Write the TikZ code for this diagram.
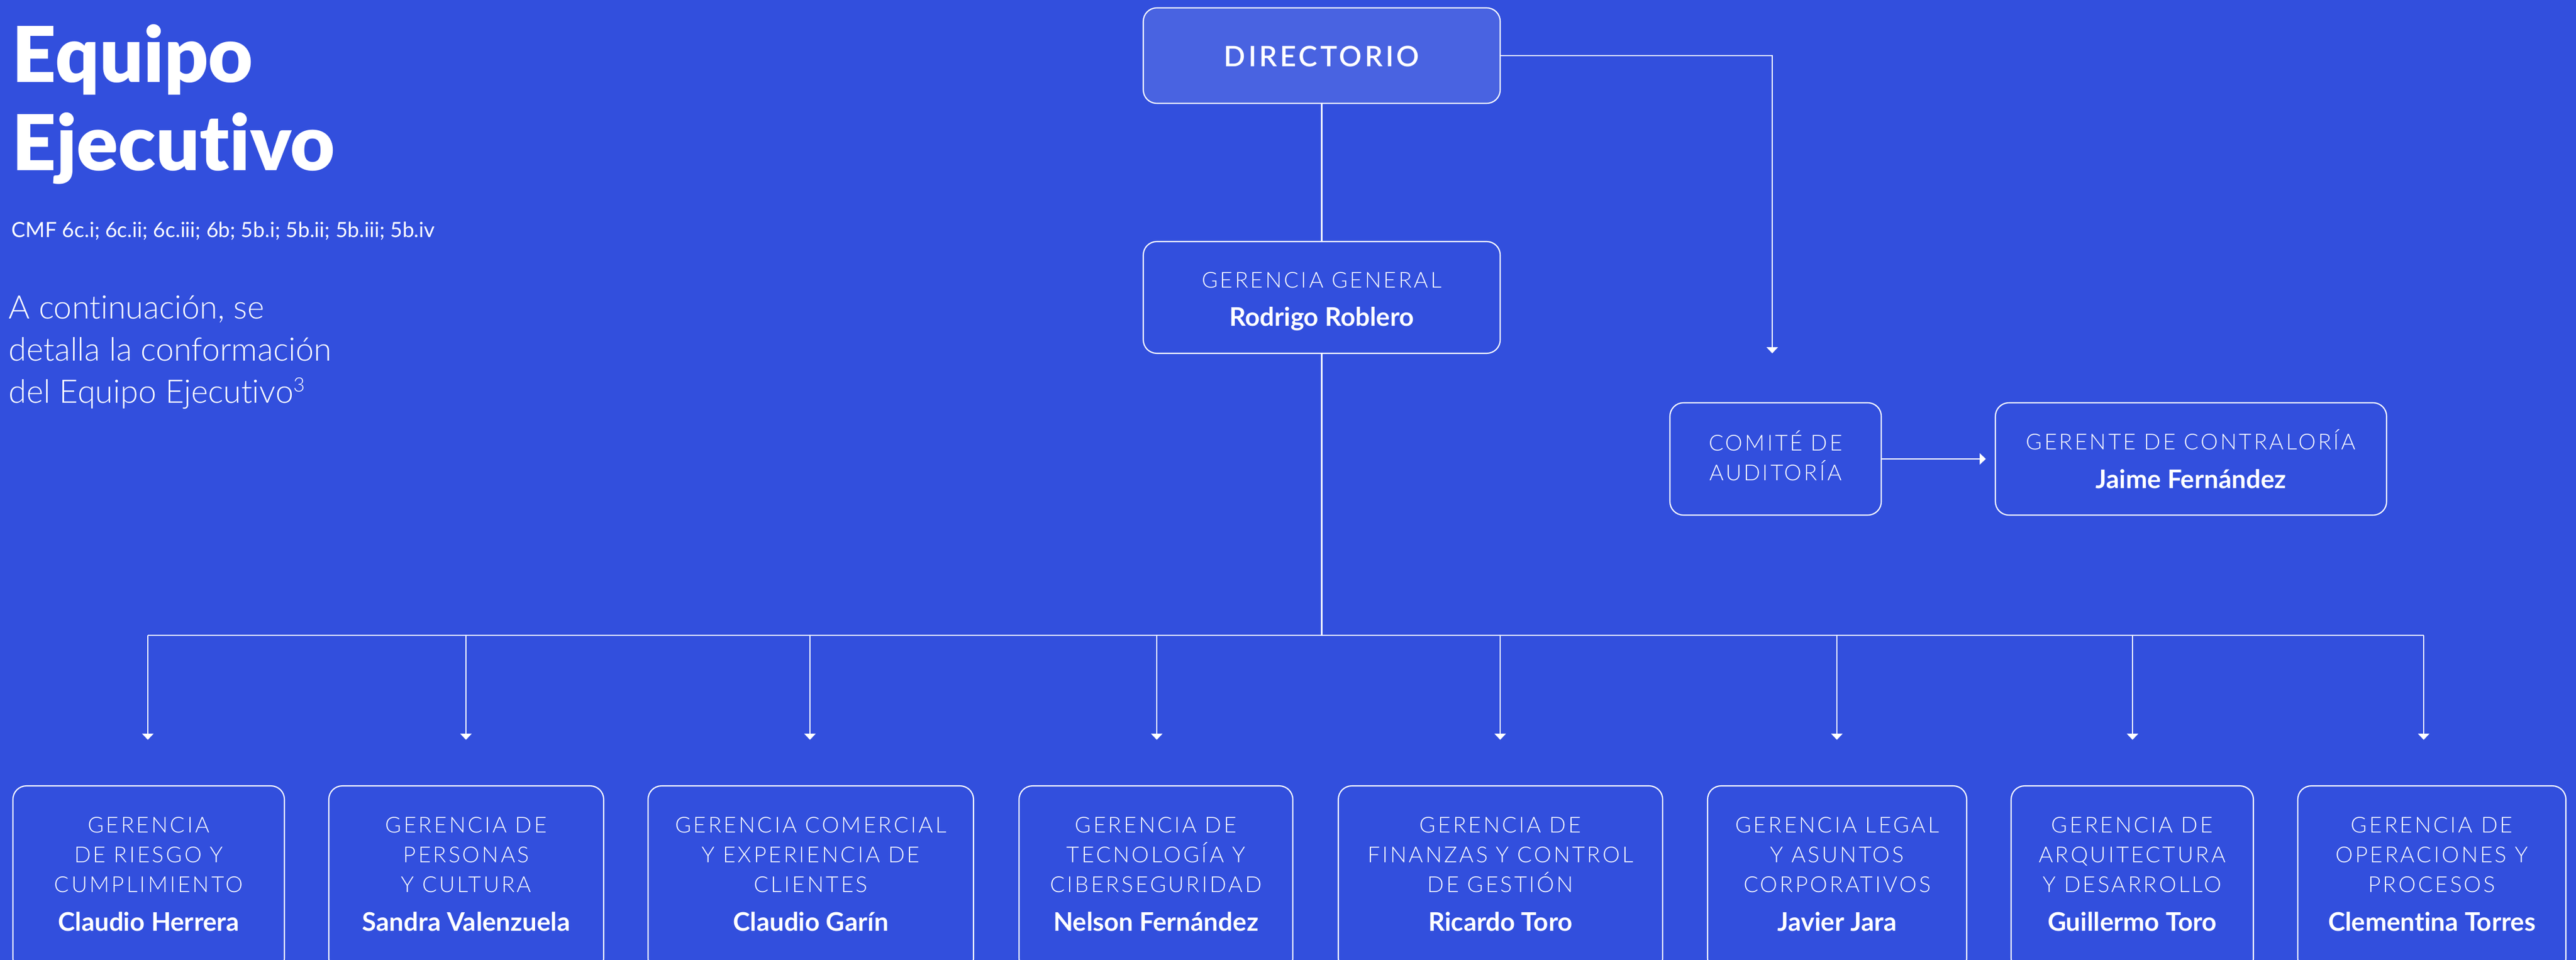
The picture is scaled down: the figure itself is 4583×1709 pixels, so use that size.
\documentclass[tikz,border=0pt]{standalone}
\usepackage{fontspec}
\setmainfont{Lato}[Ligatures=NoCommon]
\newfontfamily\latolight{Lato Light}[Ligatures=NoCommon]
\newfontfamily\latoblack{Lato Black}[Ligatures=NoCommon]
\newfontfamily\latolightsp{Lato Light}[LetterSpace=10,Ligatures=NoCommon]
\newfontfamily\latosemisp{Lato Semibold}[LetterSpace=10,Ligatures=NoCommon]
\usetikzlibrary{arrows.meta,fit,calc}
\definecolor{bgblue}{RGB}{50,79,221}
\definecolor{dirblue}{RGB}{73,99,225}
\newcommand\gbox[8]{%
  \node[box, fit={(#2,1399) (#3,1730)}] (#1) {};
  \node[lab] (#1a) at (#1.north |- 0,1482) {#4};
  \node[lab] (#1b) at (#1.north |- 0,1535) {#5};
  \node[lab] (#1c) at (#1.north |- 0,1588) {#6};
  \node[who] (#1n) at (#1.north |- 0,1657) {#7};
  \coordinate (#1tip) at (#8,1317);
  \draw[arr] (#1tip |- busl) -- (#1tip);
}
\begin{document}
\begin{tikzpicture}[x=0.01cm,y=-0.01cm,
  box/.style={draw=white, line width=0.6pt, rounded corners=0.24cm, inner sep=0pt, outer sep=0pt, fill=bgblue},
  lab/.style={text=white, inner sep=0pt, anchor=base, font=\latolightsp\fontsize{11.1}{13}\selectfont},
  who/.style={text=white, inner sep=0pt, anchor=base, font=\bfseries\fontsize{13}{15}\selectfont},
  plain/.style={text=white, inner sep=0pt, anchor=base west},
  conn/.style={draw=white, line width=0.6pt},
  arr/.style={conn, -{Triangle[width=5.7pt,length=3.1pt]}}]
\useasboundingbox (0,0) rectangle (4583,1709);
\fill[bgblue] (0,0) rectangle (4583,1709);

% left texts
\node[plain, font=\latoblack\fontsize{39}{41}\selectfont] (title1) at (21,146) {Equipo};
\node[plain, font=\latoblack\fontsize{39}{41}\selectfont] (title2) at (21,303) {Ejecutivo};
\node[plain, font=\fontsize{10.6}{12}\selectfont] (cmf) at (20,422) {CMF 6c.i; 6c.ii; 6c.iii; 6b; 5b.i; 5b.ii; 5b.iii; 5b.iv};
\node[plain, font=\latolight\fontsize{16.4}{19}\selectfont] (par1) at (15,567) {A continuación, se};
\node[plain, font=\latolight\fontsize{16.4}{19}\selectfont] (par2) at (15,642) {detalla la conformación};
\node[plain, font=\latolight\fontsize{16.4}{19}\selectfont] (par3) at (15,717) {del Equipo Ejecutivo{\fontsize{10}{10}\selectfont\raisebox{1.1ex}{3}}};

% top boxes
\node[box, fill=dirblue, fit={(2034,14) (2669,184)}] (dir) {};
\node[text=white, inner sep=0pt, anchor=base, font=\latosemisp\fontsize{14.3}{16}\selectfont] (dirt) at (dir.north |- 0,118) {DIRECTORIO};

\node[box, fit={(2034,430) (2669,629)}] (gg) {};
\node[lab] (gga) at (gg.north |- 0,512) {GERENCIA GENERAL};
\node[who] (ggn) at (gg.north |- 0,580) {Rodrigo Roblero};

\node[box, fit={(2971,717) (3347,917)}] (ca) {};
\node[lab] (caa) at (ca.north |- 0,802) {COMITÉ DE};
\node[lab] (cab) at (ca.north |- 0,855) {AUDITORÍA};

\node[box, fit={(3550,717) (4246,917)}] (cg) {};
\node[lab] (cga) at (cg.north |- 0,800) {GERENTE DE CONTRALORÍA};
\node[who] (cgn) at (cg.north |- 0,869) {Jaime Fernández};

% connectors top
\coordinate (catip) at (3153,629);
\coordinate (cgtip) at (3533,817);
\draw[conn] (dir.south) -- (gg.north);
\draw[arr] (dir.east) -| (catip);
\draw[arr] (ca.east) -- (cgtip);

\coordinate (busl) at (263,1131);
\coordinate (busr) at (4312,1131);
\draw[conn] (gg.south) -- (gg.south |- busl);
\draw[conn] (busl) -- (busr);

% bottom boxes
\gbox{ba}{23}{506}{GERENCIA}{DE RIESGO Y}{CUMPLIMIENTO}{Claudio Herrera}{263}
\gbox{bb}{585}{1074}{GERENCIA DE}{PERSONAS}{Y CULTURA}{Sandra Valenzuela}{829}
\gbox{bc}{1153}{1732}{GERENCIA COMERCIAL}{Y EXPERIENCIA DE}{CLIENTES}{Claudio Garín}{1441}
\gbox{bd}{1813}{2300}{GERENCIA DE}{TECNOLOGÍA Y}{CIBERSEGURIDAD}{Nelson Fernández}{2058}
\gbox{be}{2381}{2958}{GERENCIA DE}{FINANZAS Y CONTROL}{DE GESTIÓN}{Ricardo Toro}{2669}
\gbox{bf}{3038}{3499}{GERENCIA LEGAL}{Y ASUNTOS}{CORPORATIVOS}{Javier Jara}{3268}
\gbox{bg}{3578}{4009}{GERENCIA DE}{ARQUITECTURA}{Y DESARROLLO}{Guillermo Toro}{3794}
\gbox{bh}{4088}{4565}{GERENCIA DE}{OPERACIONES Y}{PROCESOS}{Clementina Torres}{4312}
\end{tikzpicture}
\end{document}
